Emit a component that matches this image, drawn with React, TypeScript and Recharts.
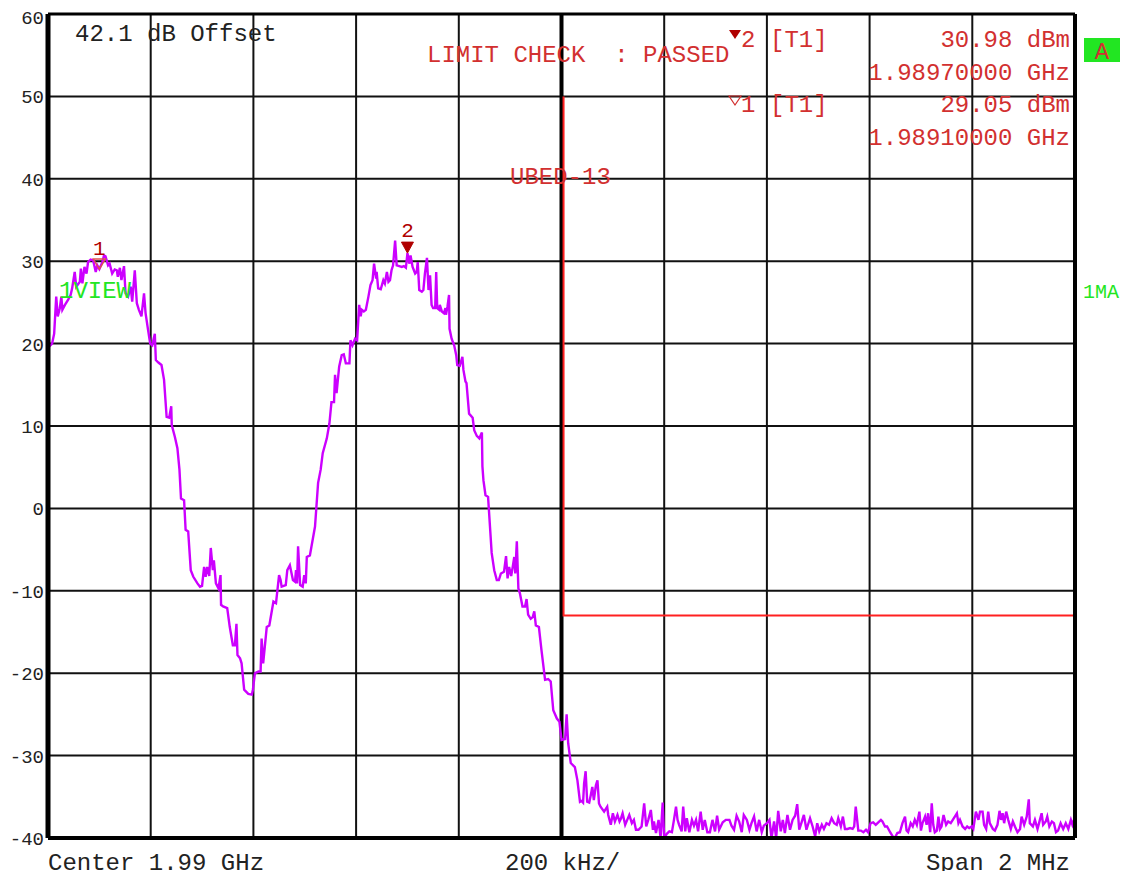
import React from 'react';
import { ComposedChart, Line, XAxis, YAxis, CartesianGrid, ReferenceLine, ReferenceDot } from 'recharts';

// Frequency offset from center (kHz) and level (dBm)
const traceFreq: number[] = [
  -1000, -992, -988, -984, -981, -977, -974, -972, -967, -961, -956, -953, -948, -945, -938, -936, -933, -929, -925, -922,
  -917, -912, -907, -904, -900, -894, -891, -888, -883, -880, -875, -870, -866, -864, -860, -857, -852, -849, -844, -839,
  -836, -831, -827, -823, -818, -813, -810, -805, -801, -797, -792, -790,
  -785, -779, -774, -769, -764, -760, -759, -753, -748, -744, -741, -735, -732, -727, -722, -717, -709, -704,
  -700, -696, -693, -690, -686, -683, -679, -677, -673, -668, -664, -663, -659, -651, -646, -640, -636, -633, -631, -626,
  -623, -618, -610, -603, -601, -597, -590, -586, -584, -581, -574, -569, -561, -556, -550, -547, -545, -537, -534, -529,
  -523, -519, -517, -515, -513, -509, -504, -501, -498, -496, -490,
  -480, -474, -469, -465, -457, -452, -448, -443, -441, -438, -433, -428, -424, -420, -413, -411, -407, -402, -398, -394,
  -391, -389, -385, -381, -376, -372, -368, -365, -361, -360, -357, -352, -347, -344, -340, -337, -334, -331, -328, -324,
  -321, -316, -311, -307, -303, -300, -296, -294, -290, -285, -282, -280, -277, -272, -269, -266, -262, -259, -256, -253,
  -250, -246, -244, -242, -238, -237, -233, -229, -226, -225, -222, -219, -218, -214, -209, -205, -203, -198, -193, -191,
  -187, -185, -180, -173, -170, -165, -160, -155, -154, -152, -148, -143, -136, -131, -126, -122, -118, -112, -108, -105,
  -102, -98, -95, -92, -90, -87, -84, -81, -76, -71, -68, -65, -60, -56, -53, -50, -44, -39, -32, -26,
  -21, -16, -9, -4, 0, 7, 10, 13, 18, 26, 31, 36, 39, 42, 44, 47, 50, 54, 57, 60,
  63, 67, 70, 73, 76, 83, 89, 91, 96, 100, 104, 109, 113, 116, 119, 124, 128, 132, 137, 141,
  145, 150, 156, 161, 165, 169, 174, 178, 180, 184, 189, 193, 197, 200, 205, 210, 215, 219, 223, 226,
  229, 234, 237, 241, 244, 249, 254, 258, 262, 266, 271, 275, 279, 284, 289, 294, 299, 303, 307, 314,
  320, 327, 331, 336, 341, 346, 351, 355, 361, 366, 370, 375, 380, 385, 390, 394, 400, 405, 409, 414,
  418, 422, 427, 431, 435, 440, 445, 450, 455, 459, 463, 468, 472, 477, 484, 489, 494, 498, 502, 507,
  511, 516, 521, 526, 531, 536, 539, 544, 548, 552, 557, 562, 567, 570, 573, 578, 583, 588, 593, 597,
  602, 607, 612, 617, 622, 625, 630, 634, 640, 645, 649, 654, 659, 664, 669, 672, 675, 680, 684, 688,
  692, 697, 700, 703, 708, 711, 714, 718, 721, 724, 727, 731, 734, 737, 740, 744, 749, 753, 758, 762,
  766, 770, 773, 776, 781, 786, 790, 794, 799, 802, 807, 812, 815, 820, 823, 827, 831, 834, 840, 844,
  849, 853, 856, 859, 862, 866, 870, 875, 879, 883, 888, 893, 896, 901, 906, 910, 912, 918, 922, 927,
  930, 935, 938, 943, 946, 950, 955, 959, 963, 967, 972, 977, 982, 987, 992, 995, 1000,
];

const traceLevel: number[] = [
  19.5, 20.0, 21.2, 25.7, 23.3, 24.3, 25.7, 24.1, 24.7, 25.3, 25.9, 26.7, 28.7, 26.9, 27.5, 29.1, 27.3, 29.3, 28.5, 29.9,
  30.2, 30.1, 28.7, 29.5, 29.05, 29.9, 30.7, 30.6, 29.5, 29.7, 28.5, 29.0, 28.9, 28.1, 29.2, 27.7, 29.4, 26.1, 25.7, 26.9,
  25.1, 28.9, 24.9, 24.1, 23.3, 26.1, 23.7, 21.6, 20.0, 19.8, 21.2, 18.0,
  17.7, 17.4, 15.6, 11.1, 11.0, 12.4, 10.1, 8.7, 7.3, 4.7, 1.2, 1.0, -2.6, -2.8, -7.5, -8.3, -9.1, -9.5,
  -9.4, -7.1, -8.3, -7.1, -8.2, -4.8, -7.5, -6.3, -9.1, -9.7, -8.1, -11.7, -11.9, -12.1, -14.4, -16.6, -16.6, -14.0, -17.8, -18.2,
  -18.8, -22.0, -22.5, -22.6, -22.0, -20.0, -19.8, -19.8, -15.8, -18.8, -14.4, -14.2, -11.3, -11.5, -8.1, -8.7, -9.5, -9.3, -7.5, -6.9,
  -8.7, -8.9, -7.5, -9.1, -4.6, -9.3, -9.5, -8.1, -9.1, -5.9, -5.7,
  -2.2, 3.1, 4.7, 6.7, 8.5, 10.3, 12.9, 12.9, 16.2, 14.0, 17.2, 18.6, 18.7, 17.6, 17.6, 20.4, 19.8, 20.6, 20.4, 24.7,
  23.3, 24.1, 23.9, 24.1, 25.7, 27.1, 27.7, 29.7, 27.9, 28.7, 26.7, 26.6, 27.7, 27.3, 28.7, 27.5, 27.7, 28.9, 29.5, 32.5,
  29.5, 29.4, 29.3, 29.4, 29.2, 30.98, 29.7, 30.7, 29.3, 28.5, 28.7, 29.9, 26.5, 26.3, 26.5, 28.5, 30.4, 26.5, 28.3, 24.7,
  24.3, 24.3, 28.7, 24.3, 24.1, 24.7, 23.9, 23.7, 24.3, 23.5, 24.5, 25.9, 21.8, 20.6, 19.8, 18.6, 17.4, 17.3, 18.4, 16.8,
  15.4, 15.2, 11.5, 11.0, 9.5, 8.8, 8.5, 9.2, 5.1, 3.4, 1.6, 1.4, -5.4, -7.5, -8.7, -8.7, -7.9, -7.7, -5.8, -8.5,
  -7.1, -8.2, -7.1, -5.9, -7.9, -4.0, -9.7, -10.3, -11.9, -11.9, -11.0, -12.9, -13.4, -13.2, -12.5, -14.2, -14.4, -17.2, -20.8, -20.7,
  -21.0, -24.5, -25.5, -25.9, -28.1, -28.0, -25.0, -28.5, -30.9, -31.4, -33.0, -35.6, -35.5, -35.7, -33.4, -31.9, -35.6, -35.7, -34.8, -33.8,
  -35.4, -33.6, -33.0, -35.8, -36.2, -36.8, -36.2, -37.2, -38.4, -37.0, -38.0, -37.2, -38.0, -37.6, -37.0, -38.4, -37.8, -37.2, -38.2, -37.8,
  -39.0, -39.0, -38.6, -35.8, -38.6, -37.8, -36.6, -39.0, -38.0, -39.4, -37.8, -40.0, -35.7, -40.0, -39.5, -39.2, -39.3, -37.8, -36.2, -37.8,
  -38.4, -39.2, -36.2, -39.2, -37.6, -39.3, -37.8, -38.5, -37.8, -39.2, -36.8, -39.0, -37.8, -39.3, -39.3, -37.8, -39.2, -37.3, -39.0, -38.1,
  -37.8, -37.8, -38.5, -39.0, -37.3, -38.0, -39.3, -37.2, -37.8, -39.0, -38.2, -37.4, -39.2, -37.8, -39.3, -38.5, -38.2, -37.8, -40.0, -38.0,
  -40.0, -36.7, -39.2, -37.8, -39.4, -37.2, -39.0, -37.8, -37.3, -35.9, -39.0, -38.0, -37.2, -39.0, -37.6, -38.6, -39.8, -38.2, -39.2, -38.4,
  -38.9, -38.2, -38.4, -37.6, -38.2, -38.4, -37.6, -38.6, -37.4, -38.9, -38.9, -38.8, -38.9, -38.6, -36.2, -39.1, -39.1, -39.3, -39.0, -39.3,
  -38.2, -38.1, -38.4, -38.1, -37.8, -38.0, -38.6, -38.6, -39.3, -39.8, -40.0, -39.4, -39.3, -38.2, -37.4, -39.1, -39.3, -38.2, -38.6, -37.8,
  -38.4, -36.8, -39.1, -38.2, -37.4, -38.4, -37.0, -39.3, -35.8, -38.4, -39.3, -39.1, -37.4, -38.9, -38.6, -37.2, -38.4, -38.0, -38.2, -37.8,
  -37.4, -37.0, -38.2, -37.8, -38.6, -38.9, -38.6, -38.8, -38.6, -38.9, -36.8, -37.8, -36.8, -36.8, -38.4, -38.9, -36.8, -38.2, -38.9, -39.1,
  -38.4, -36.7, -37.8, -37.0, -38.2, -36.8, -37.8, -38.9, -38.0, -38.6, -39.3, -38.9, -37.4, -38.4, -37.4, -35.3, -38.2, -38.6, -37.8, -38.9,
  -38.2, -37.0, -38.4, -38.0, -37.4, -38.6, -38.0, -38.2, -39.3, -39.1, -38.2, -38.9, -38.2, -38.9, -37.8, -38.4, -37.4,
];

// Limit line UBED-13 (kHz, dBm)
const limitFreq: number[] = [4, 4, 1000];
const limitLevel: number[] = [50, -13, -13];

// Markers
const markerFreq: number[] = [-900, -300];
const markerLevel: number[] = [29.05, 30.98];

const xTicks: number[] = [-1000, -800, -600, -400, -200, 0, 200, 400, 600, 800, 1000];
const yTicks: number[] = [-40, -30, -20, -10, 0, 10, 20, 30, 40, 50, 60];

const traceData = traceFreq.map((f, i) => ({ f, v: traceLevel[i] }));
const limitData = limitFreq.map((f, i) => ({ f, v: limitLevel[i] }));

const FONT = '"Liberation Mono", "DejaVu Sans Mono", monospace';
const RED = '#d23030';
const DARKRED = '#b00000';
const GREEN = '#22e622';
const TRACE = '#cc00ff';

const YTick = (props: any) => {
  const { x, y, payload } = props;
  return (
    <text x={x} y={y} dy={7} textAnchor="end" fontFamily={FONT} fontSize={19} fill="#222">
      {payload.value}
    </text>
  );
};

const Marker1 = (props: any) => {
  const { cx, cy } = props;
  return (
    <g>
      <polygon points={`${cx - 6},${cy - 10} ${cx + 6},${cy - 10} ${cx},${cy}`} fill="none" stroke="#e05050" strokeWidth={1.5} />
      <text x={cx} y={cy - 14} textAnchor="middle" fontFamily={FONT} fontSize={21} fill={DARKRED}>1</text>
    </g>
  );
};

const Marker2 = (props: any) => {
  const { cx, cy } = props;
  return (
    <g>
      <polygon points={`${cx - 6},${cy - 11} ${cx + 6},${cy - 11} ${cx},${cy}`} fill={DARKRED} stroke={DARKRED} strokeWidth={1} />
      <text x={cx} y={cy - 16} textAnchor="middle" fontFamily={FONT} fontSize={21} fill={DARKRED}>2</text>
    </g>
  );
};

const W = 1121;
const H = 863;

export default function App() {
  const txt = { fontFamily: FONT, fontSize: 24 } as const;
  const innerX = xTicks.filter((t) => t !== 0 && Math.abs(t) !== 1000);
  return (
    <div style={{ position: 'relative', width: W, height: H }}>
      <ComposedChart width={W} height={H} margin={{ top: 6, right: 54, bottom: 33, left: 0 }}>
        <CartesianGrid stroke="#111" strokeWidth={2} vertical={false} />
        <XAxis
          type="number"
          dataKey="f"
          domain={[-1000, 1000]}
          ticks={xTicks}
          allowDataOverflow
          tick={false}
          axisLine={false}
          tickLine={false}
          height={0}
        />
        <YAxis
          type="number"
          domain={[-40, 60]}
          ticks={yTicks}
          allowDataOverflow
          width={40}
          axisLine={false}
          tickLine={false}
          tickSize={0}
          tickMargin={4}
          tick={<YTick />}
        />
        {innerX.map((t) => (
          <ReferenceLine key={t} x={t} stroke="#111" strokeWidth={2} />
        ))}
        <ReferenceLine x={0} stroke="#000" strokeWidth={4} />
        <Line data={traceData} dataKey="v" type="linear" stroke={TRACE} strokeWidth={2.4} dot={false} isAnimationActive={false} />
        <Line data={limitData} dataKey="v" type="linear" stroke="#ff2020" strokeWidth={2} dot={false} isAnimationActive={false} />
        <ReferenceLine x={-1000} stroke="#000" strokeWidth={5} />
        <ReferenceLine x={1000} stroke="#000" strokeWidth={4} />
        <ReferenceLine y={60} stroke="#000" strokeWidth={3} />
        <ReferenceLine y={-40} stroke="#000" strokeWidth={4} />
        <ReferenceDot x={markerFreq[0]} y={markerLevel[0]} r={0} ifOverflow="visible" shape={<Marker1 />} />
        <ReferenceDot x={markerFreq[1]} y={markerLevel[1]} r={0} ifOverflow="visible" shape={<Marker2 />} />
      </ComposedChart>
      <svg
        width={W}
        height={H}
        style={{ position: 'absolute', left: 0, top: 0, pointerEvents: 'none', overflow: 'visible' }}
      >
        <text x={67} y={33} {...txt} fill="#222">42.1 dB Offset</text>
        <text x={419} y={54} {...txt} fill={RED} style={{ whiteSpace: 'pre' }}>LIMIT CHECK  : PASSED</text>

        <polygon points="721,22 733,22 727,31" fill={DARKRED} />
        <text x={733} y={39} {...txt} fill={RED}>2</text>
        <text x={762} y={39} {...txt} fill={RED}>[T1]</text>
        <text x={1062} y={39} {...txt} fill={RED} textAnchor="end">30.98 dBm</text>
        <text x={1062} y={72} {...txt} fill={RED} textAnchor="end">1.98970000 GHz</text>

        <polygon points="721,88 733,88 727,97" fill="none" stroke={RED} strokeWidth={1.2} />
        <text x={733} y={104} {...txt} fill={RED}>1</text>
        <text x={762} y={104} {...txt} fill={RED}>[T1]</text>
        <text x={1062} y={104} {...txt} fill={RED} textAnchor="end">29.05 dBm</text>
        <text x={1062} y={137} {...txt} fill={RED} textAnchor="end">1.98910000 GHz</text>

        <text x={502} y={176} {...txt} fill={RED}>UBED-13</text>

        <text x={51} y={290} {...txt} fill={GREEN}>1VIEW</text>
        <text x={1075} y={290} fontFamily={FONT} fontSize={20} fill={GREEN}>1MA</text>

        <rect x={1076} y={30} width={36} height={24} fill={GREEN} />
        <text x={1094} y={51} {...txt} fill={RED} textAnchor="middle">A</text>

        <text x={40} y={862} {...txt} fill="#222">Center 1.99 GHz</text>
        <text x={497} y={862} {...txt} fill="#222">200 kHz/</text>
        <text x={1062} y={862} {...txt} fill="#222" textAnchor="end">Span 2 MHz</text>
      </svg>
    </div>
  );
}
